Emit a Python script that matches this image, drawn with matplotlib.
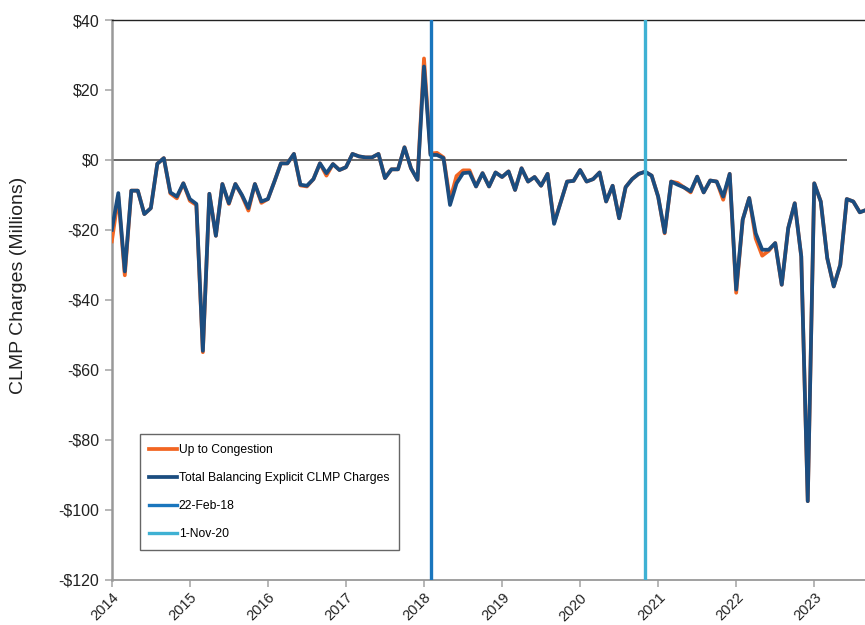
import matplotlib
matplotlib.use("Agg")
import matplotlib.pyplot as plt
import numpy as np

plt.rcParams['font.family'] = ['Liberation Sans', 'DejaVu Sans']

# ---- data (monthly, starting Jan 2014), $ millions ----
start_year = 2014
total_balancing = [
    -20.0, -9.5, -31.9, -8.8, -8.8, -15.5, -13.8, -1.1, 0.5, -9.3, -10.5, -6.7,
    -11.2, -12.6, -54.6, -9.7, -21.7, -6.9, -12.4, -6.9, -10.0, -13.8, -6.9, -11.9,
    -11.2, -6.2, -1.0, -1.0, 1.7, -7.1, -7.4, -5.5, -1.0, -3.8, -1.2, -2.9,
    -2.1, 1.7, 1.0, 0.7, 0.7, 1.7, -5.2, -2.7, -2.7, 3.6, -2.4, -5.7,
    26.7, 1.4, 1.4, 0.5, -12.9, -6.7, -3.8, -3.6, -7.6, -3.8, -7.6, -3.6,
    -4.9, -3.3, -8.6, -2.4, -6.2, -4.9, -7.4, -4.0, -18.3, -12.2, -6.2, -6.0,
    -2.9, -6.2, -5.5, -3.6, -11.9, -7.4, -16.7, -7.8, -5.5, -4.0, -3.4, -4.5,
    -10.5, -20.8, -6.2, -7.1, -7.9, -9.0, -4.8, -9.3, -5.9, -6.2, -10.5, -4.0,
    -37.1, -17.1, -10.9, -21.0, -25.7, -25.7, -23.8, -35.7, -19.5, -12.4, -27.6, -97.6,
    -6.7, -11.9, -28.1, -36.2, -30.0, -11.2, -11.9, -15.0, -14.3,
]
up_to_congestion = [
    -23.3, -10.5, -33.0, -8.8, -8.8, -15.5, -13.8, -1.1, 0.5, -9.6, -11.0, -6.7,
    -11.7, -12.9, -55.0, -9.7, -21.7, -6.9, -12.6, -6.9, -10.2, -14.5, -6.9, -12.3,
    -11.2, -6.2, -1.0, -1.0, 1.7, -7.3, -7.6, -5.5, -1.0, -4.5, -1.2, -2.9,
    -2.1, 1.7, 1.0, 0.7, 0.7, 1.7, -5.2, -2.7, -2.7, 3.6, -2.4, -5.7,
    29.0, 1.8, 2.0, 0.7, -11.5, -4.6, -3.0, -3.0, -7.6, -3.8, -7.6, -3.6,
    -4.9, -3.3, -8.6, -2.4, -6.2, -4.9, -7.4, -4.0, -18.0, -12.2, -6.2, -6.0,
    -2.9, -6.2, -5.5, -3.6, -11.9, -7.4, -16.7, -7.8, -5.5, -4.0, -3.4, -4.5,
    -10.5, -21.0, -6.2, -6.6, -7.9, -9.3, -4.8, -9.3, -5.9, -6.2, -11.4, -4.0,
    -38.0, -17.1, -10.9, -22.5, -27.4, -26.0, -23.8, -35.7, -19.5, -12.4, -27.6, -97.6,
    -6.7, -11.9, -28.1, -36.2, -30.0, -11.2, -11.9, -15.0, -14.3,
]
event_labels = ['22-Feb-18', '1-Nov-20']
event_months = [(2018, 2), (2020, 11)]   # drawn at the month slot of each event
event_colors = ['#1a76bd', '#3fb1d3']

year_ticks = list(range(2014, 2024))
y_ticks = [40, 20, 0, -20, -40, -60, -80, -100, -120]

months = start_year + np.arange(len(total_balancing)) / 12.0
event_positions = [y + (m - 1) / 12.0 for y, m in event_months]

# ---- figure ----
W, H = 865, 625
fig = plt.figure(figsize=(W / 100, H / 100), dpi=100)
left_px, right_px, top_px, bottom_px = 111.8, 865, 20, 579.5
px_per_year = 78.05
ax = fig.add_axes([left_px / W, 1 - bottom_px / H,
                   (right_px - left_px) / W, (bottom_px - top_px) / H])

orange = '#f26522'
navy = '#1b4d80'

ax.hlines(0, 2014, 2014 + (846.7 - left_px) / px_per_year,
          color='#5a5a5a', lw=1.3, zorder=1)

ax.plot(months, up_to_congestion, color=orange, lw=2.7, solid_joinstyle='round',
        label='Up to Congestion', zorder=3)
ax.plot(months, total_balancing, color=navy, lw=2.7, solid_joinstyle='round',
        label='Total Balancing Explicit CLMP Charges', zorder=4)
for pos, lab, col in zip(event_positions, event_labels, event_colors):
    ax.axvline(pos, color=col, lw=2.4, label=lab, zorder=5)

ax.set_ylim(-120, 40)
ax.set_xlim(2014, 2014 + (right_px - left_px) / px_per_year)
ax.set_yticks(y_ticks)
ax.set_yticklabels([('-$%d' % -v) if v < 0 else ('$%d' % v) for v in y_ticks])
ax.set_xticks(year_ticks)
ax.set_xticklabels([str(y) for y in year_ticks], rotation=45, ha='right',
                   rotation_mode='anchor')

ax.spines['right'].set_visible(False)
ax.spines['top'].set_color('#222222')
ax.spines['top'].set_linewidth(1.0)
ax.spines['left'].set_color('#999999')
ax.spines['left'].set_linewidth(1.8)
ax.spines['bottom'].set_color('#999999')
ax.spines['bottom'].set_linewidth(1.3)

ax.tick_params(axis='y', direction='out', length=5, width=1.2, color='#aaaaaa',
               labelsize=11.5, pad=4, labelcolor='#222222')
ax.tick_params(axis='x', direction='out', length=5, width=1.2, color='#aaaaaa',
               labelsize=10.5, pad=3, labelcolor='#222222')

ax.set_ylabel('CLMP Charges (Millions)', fontsize=14, color='#222222')
ax.yaxis.set_label_coords((27 - left_px) / (right_px - left_px), 0.526)

leg = ax.legend(loc='lower left', bbox_to_anchor=((139.5 - left_px) / (right_px - left_px),
                                                  (bottom_px - 549.5) / (bottom_px - top_px)),
                borderaxespad=0, fontsize=8.75, frameon=True, fancybox=False,
                handlelength=2.3, handletextpad=0.15, labelspacing=1.32, borderpad=0.79)
leg.get_frame().set_edgecolor('#404040')
leg.get_frame().set_linewidth(1.0)

fig.savefig('out.png', dpi=100)
